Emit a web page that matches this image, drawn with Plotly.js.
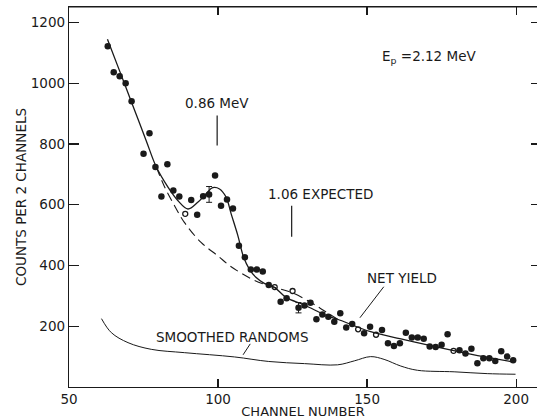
<!DOCTYPE html>
<html>
<head>
<meta charset="utf-8">
<script src="https://cdn.plot.ly/plotly-3.0.1.min.js"></script>
<style>html,body{margin:0;padding:0;background:#fff;}#chart{width:539px;height:419px;}</style>
</head>
<body>
<div id="chart"></div>
<script>
// Measured points (filled circles)
var chFilled = [63,65,67,69,71,75,77,79,81,83,85,87,91,93,95,99,101,103,105,107,109,111,113,115,117,121,123,129,131,133,135,137,139,141,143,145,149,151,155,157,159,161,163,165,167,169,171,173,175,177,181,183,185,187,189,191,193,195,197,199];
var cntFilled = [1122,1036,1023,1000,941,768,835,724,627,733,647,627,616,567,628,696,597,617,588,465,427,387,387,380,336,281,292,268,277,223,239,231,215,243,196,207,177,198,188,144,135,144,179,163,163,159,133,132,139,174,121,110,126,78,95,95,86,118,100,88];
// Open circles
var chOpen = [89,119,125,147,153,179];
var cntOpen = [570,329,316,190,172,119];
// Points with error bars
var chErr = [97,127];
var cntErr = [634,261];
var errVal = [26,17];
// Net yield (solid curve)
var fitCh = [62.9,67.2,71.2,75.9,79.3,83.2,86.5,89.9,93.2,96,98.2,100.5,102.7,104.4,106.6,108.6,110.5,112.7,115.5,118.9,122.8,128.9,136.7,140.1,151.2,162.4,173.6,184.7,198.6];
var fitCnt = [1145,1035,932,811,724,658,614,586,608,636,656,652,625,570,500,427,388,361,341,328,295,270,234,223,182,156,131,108,83];
// Expected background (dashed)
var bgCh = [79.3,82,85.4,88.7,94.3,99.9,104.4,111,115.5,120,124.5,131.2,135.6,140.1];
var bgCnt = [724,660,597,542,476,432,396,357,338,325,312,278,251,223];
// Smoothed randoms
var rndCh = [60.9,64.2,69.8,77.6,88.8,105.5,117,129,140.1,145.7,151.2,155.7,161.3,166.9,179.2,190.3,199.8];
var rndCnt = [225,179,146,124,113,99,84,77,73,86,100,91,69,55,50,44,42];
// Tick labels
var xTicks = [50,100,150,200];
var yTicks = [200,400,600,800,1000,1200];

var FONT = 'DejaVu Sans, sans-serif';
var INK = '#1a1a1a';

var traces = [
  {x: fitCh, y: fitCnt, mode: 'lines', line: {color: INK, width: 1.3, shape: 'spline', smoothing: 1}, name: 'Net yield'},
  {x: bgCh, y: bgCnt, mode: 'lines', line: {color: INK, width: 1.1, shape: 'spline', smoothing: 1, dash: '9px,5px'}, name: 'Expected'},
  {x: rndCh, y: rndCnt, mode: 'lines', yaxis: 'y2', line: {color: INK, width: 1, shape: 'spline', smoothing: 1}, name: 'Smoothed randoms'},
  {x: chFilled, y: cntFilled, mode: 'markers', marker: {color: INK, size: 6.5, symbol: 'circle'}, name: 'Data'},
  {x: chOpen, y: cntOpen, mode: 'markers', marker: {color: INK, size: 5, symbol: 'circle-open', line: {width: 1.3, color: INK}}, name: 'Data (open)'},
  {x: chErr, y: cntErr, mode: 'markers', marker: {color: INK, size: 6.5}, error_y: {type: 'data', array: errVal, visible: true, color: INK, thickness: 1, width: 3}, name: 'Data (error)'}
];

var layout = {
  width: 539, height: 419,
  margin: {l: 69, r: 2, t: 7, b: 32},
  paper_bgcolor: '#fff', plot_bgcolor: '#fff',
  showlegend: false,
  font: {family: FONT, size: 13.5, color: INK},
  xaxis: {
    range: [50, 207], tickvals: xTicks, ticktext: xTicks.map(String),
    ticks: 'inside', ticklen: 8, tickcolor: INK, tickwidth: 1.2,
    showline: true, linecolor: INK, linewidth: 1.2, mirror: 'ticks',
    showgrid: false, zeroline: false,
    tickfont: {family: FONT, size: 13.5, color: INK},
    title: {text: 'CHANNEL NUMBER', font: {family: FONT, size: 13, color: INK}, standoff: 4}
  },
  yaxis: {
    range: [0, 1251], tickvals: yTicks, ticktext: yTicks.map(String),
    ticks: 'inside', ticklen: 10, tickcolor: INK, tickwidth: 1.2,
    showline: true, linecolor: INK, linewidth: 1.2,
    showgrid: false, zeroline: false,
    tickfont: {family: FONT, size: 13.5, color: INK},
    title: {text: 'COUNTS PER 2 CHANNELS', font: {family: FONT, size: 13.5, color: INK}, standoff: 1}
  },
  yaxis2: {
    overlaying: 'y', side: 'right', range: [0, 1251], tickvals: yTicks,
    ticks: 'inside', ticklen: 6, tickcolor: INK, tickwidth: 1.2, showticklabels: false,
    showline: false, showgrid: false, zeroline: false
  },
  annotations: [
    {x: 170.7, y: 1086, xref: 'x', yref: 'y', text: 'E<sub>p</sub> =2.12 MeV', showarrow: false, font: {family: FONT, size: 13.5, color: INK}},
    {x: 99.7, y: 934, xref: 'x', yref: 'y', text: '0.86 MeV', showarrow: false, font: {family: FONT, size: 13.5, color: INK}},
    {x: 134.5, y: 637, xref: 'x', yref: 'y', text: '1.06 EXPECTED', showarrow: false, font: {family: FONT, size: 13.5, color: INK}},
    {x: 161.8, y: 360, xref: 'x', yref: 'y', text: 'NET YIELD', showarrow: false, font: {family: FONT, size: 13.5, color: INK}},
    {x: 104.7, y: 165, xref: 'x', yref: 'y', text: 'SMOOTHED RANDOMS', showarrow: false, font: {family: FONT, size: 13.5, color: INK}}
  ],
  shapes: [
    {type: 'line', xref: 'paper', yref: 'paper', x0: 0, x1: 1, y0: 1, y1: 1, line: {color: INK, width: 1.2}},
    {type: 'line', xref: 'x', yref: 'y', x0: 99.7, x1: 99.7, y0: 894, y1: 795, line: {color: INK, width: 1.2}},
    {type: 'line', xref: 'x', yref: 'y', x0: 124.7, x1: 124.7, y0: 597, y1: 495, line: {color: INK, width: 1.2}},
    {type: 'line', xref: 'x', yref: 'y', x0: 155.6, x1: 147.6, y0: 330, y1: 228, line: {color: INK, width: 1}},
    {type: 'line', xref: 'x', yref: 'y', x0: 110.8, x1: 108.4, y0: 142, y1: 106, line: {color: INK, width: 1}}
  ]
};

Plotly.newPlot('chart', traces, layout, {displayModeBar: false, staticPlot: true});
</script>
</body>
</html>
